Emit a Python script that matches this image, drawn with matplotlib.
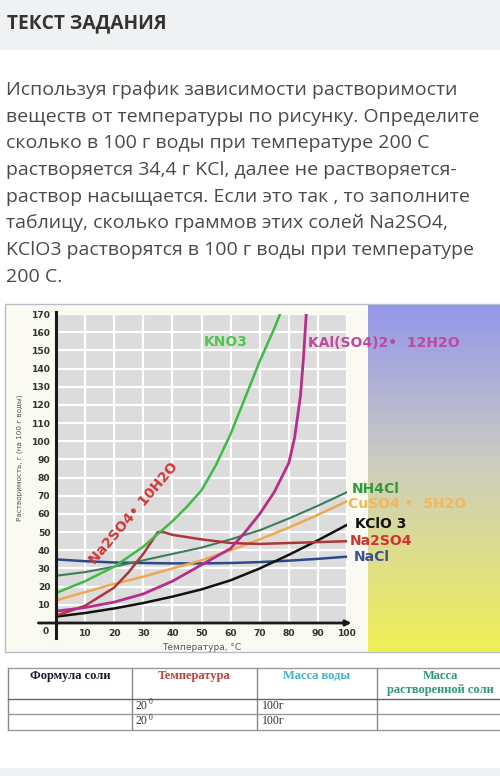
import numpy as np
import matplotlib
matplotlib.use("Agg")
import matplotlib.pyplot as plt
from matplotlib.patches import Rectangle

# --- task text ---
header = "ТЕКСТ ЗАДАНИЯ"
task_lines = [
    "Используя график зависимости растворимости",
    "веществ от температуры по рисунку. Определите",
    "сколько в 100 г воды при температуре 200 С",
    "растворяется 34,4 г KCl, далее не растворяется-",
    "раствор насыщается. Если это так , то заполните",
    "таблицу, сколько граммов этих солей Na2SO4,",
    "KClO3 растворятся в 100 г воды при температуре",
    "200 С.",
]

# --- solubility curves, g per 100 g water ---
t_std = [0, 10, 20, 30, 40, 50, 60, 70, 80, 90, 100]

kno3_t = [0, 10, 20, 30, 40, 45, 50, 55, 60, 65, 70, 75, 77]
kno3_s = [16.5, 23, 31, 42, 56, 64, 73, 87, 104, 124, 144, 162, 170]

kal_t = [0, 10, 20, 30, 40, 50, 60, 65, 70, 75, 80, 82, 84, 85, 86]
kal_s = [6.5, 8.5, 11.5, 16, 23, 32, 41, 50, 60, 72, 88, 102, 125, 145, 170]

nh4cl_s = [26, 28, 31, 34.5, 38, 41.5, 46, 51, 57.5, 64.5, 72]
cuso4_s = [12.5, 17, 21.5, 25.5, 30, 34.5, 40, 46, 52.5, 59.5, 67]
kclo3_s = [3.5, 5.5, 8, 11, 14.5, 18.5, 23.5, 30, 37.5, 45.5, 54]
nacl_s = [35, 34, 33.3, 33, 32.8, 32.8, 33, 33.5, 34.3, 35.3, 36.5]

na2so4_t = [0, 10, 20, 25, 30, 35, 37, 40, 50, 60, 70, 80, 90, 100]
na2so4_s = [4, 9.5, 19.5, 28, 38, 50, 50, 48.5, 46, 44, 43.5, 44, 44.5, 45]

x_ticks = list(range(0, 101, 10))
y_ticks = list(range(0, 171, 10))

# --- table ---
table_head = ["Формула соли", "Температура", "Масса воды", "Масса\nрастворенной соли"]
table_temp = ["20", "20"]
table_water = ["100г", "100г"]

W, H = 500, 776
fig = plt.figure(figsize=(W / 100, H / 100), dpi=100)


def px(x, y):
    # pixel position -> figure fraction
    return x / W, 1 - y / H


# background axes in pixel coordinates
bg = fig.add_axes([0, 0, 1, 1])
bg.set_xlim(0, W)
bg.set_ylim(H, 0)
bg.axis("off")

bg.add_patch(Rectangle((0, 0), W, 50, color="#eff1f2", lw=0))
bg.text(7, 23, header, fontsize=13.8, fontweight="bold", family="Open Sans",
        color="#333333", va="center")
for i, line in enumerate(task_lines):
    bg.text(6, 90 + i * 26.67, line, fontsize=14, family="Open Sans",
            color="#4a4a4a", va="center")

# chart backdrop
bg.add_patch(Rectangle((5, 304), 495, 348, facecolor="#fafaf2",
                       edgecolor="#b8bcc4", lw=1))
grad = np.linspace(0, 1, 200)[:, None]
top = np.array([0.58, 0.59, 0.92])
mid = np.array([0.80, 0.80, 0.76])
bot = np.array([0.94, 0.94, 0.33])
rgb = np.where(grad[..., None] < 0.45,
               top + (mid - top) * (grad[..., None] / 0.45),
               mid + (bot - mid) * ((grad[..., None] - 0.45) / 0.55))
bg.imshow(rgb, extent=(368, 500, 652, 305), aspect="auto", zorder=1)

# chart axes
ax = fig.add_axes([56 / W, (H - 623) / H, 291 / W, 309 / H])
ax.set_facecolor("#dcdcdc")
ax.set_xlim(0, 100)
ax.set_ylim(0, 170)
ax.set_xticks(x_ticks)
ax.set_yticks(y_ticks)
ax.set_xticklabels([""] + [str(v) for v in x_ticks[1:]])
ax.set_yticklabels([""] + [str(v) for v in y_ticks[1:]])
ax.tick_params(length=0, labelsize=6.6, labelcolor="#333333", pad=4)
for lbl in ax.get_xticklabels() + ax.get_yticklabels():
    lbl.set_fontweight("bold")
ax.grid(color="white", lw=1.6)
ax.set_axisbelow(True)
for sp in ax.spines.values():
    sp.set_visible(False)

# axis lines
ax.plot([0, 0], [-8, 171], color="#1a1a1a", lw=2.2, clip_on=False, zorder=5)
ax.annotate("", xy=(102.5, 0), xytext=(-7, 0),
            arrowprops=dict(arrowstyle="-|>", color="#1a1a1a", lw=2.0,
                            mutation_scale=8), annotation_clip=False, zorder=5)
ax.text(-3.5, -4.8, "0", fontsize=6.6, fontweight="bold", color="#333333",
        ha="center", va="center")

ax.plot(t_std, nacl_s, color="#2c4a8a", lw=1.8)
ax.plot(t_std, nh4cl_s, color="#3d7d5a", lw=1.5)
ax.plot(t_std, cuso4_s, color="#eea850", lw=1.8)
ax.plot(t_std, kclo3_s, color="#111111", lw=1.8)
ax.plot(na2so4_t, na2so4_s, color="#b0343a", lw=1.8)
ax.plot(kal_t, kal_s, color="#b82c8c", lw=2.0)
ax.plot(kno3_t, kno3_s, color="#3dbb45", lw=1.8)

ax.set_xlabel("Температура, °С", fontsize=6.5, color="#555555", labelpad=4)

# labels drawn on top of everything
fig.text(*px(20, 458), "Растворимость, г (на 100 г воды)", fontsize=5.2,
         color="#555555", rotation=90, ha="center", va="center")
lab = dict(fontsize=10, fontweight="bold", va="center")
fig.text(*px(204, 342), "KNO3", color="#4cc94c", **lab)
fig.text(*px(308, 343), "KAl(SO4)2•  12H2O", color="#c048a0", **lab)
fig.text(*px(352, 489), "NH4Cl", color="#2e9a3a", **lab)
fig.text(*px(348, 504), "CuSO4 •  5H2O", color="#f2b75a", **lab)
fig.text(*px(355, 524), "KClO 3", color="#111111", **lab)
fig.text(*px(350, 541), "Na2SO4", color="#d0342c", **lab)
fig.text(*px(354, 557), "NaCl", color="#3e4f8e", **lab)
fig.text(*px(134, 513), "Na2SO4• 10H2O", color="#d03838", fontsize=10,
         fontweight="bold", rotation=49.6, ha="center", va="center",
         rotation_mode="anchor")

# table
col_x = [8, 132, 257, 377, 505]
row_y = [668, 699, 714, 730]
for x in col_x[:-1]:
    bg.plot([x, x], [row_y[0], row_y[-1]], color="#888888", lw=1)
for y in row_y:
    bg.plot([col_x[0], W], [y, y], color="#666666" if y == 699 else "#999999", lw=1)
head_colors = ["#1a1a2a", "#c0403a", "#3fb5c5", "#2e9a70"]
head_x = [70, 194, 317, 440]
for txt, c, x in zip(table_head, head_colors, head_x):
    bg.text(x, 670, txt, family="Liberation Serif", fontweight="bold", fontsize=9,
            color=c, ha="center", va="top", linespacing=1.25)
for i, (tt, ww) in enumerate(zip(table_temp, table_water)):
    y = 706 + i * 15.5
    bg.text(136, y, tt, family="Liberation Serif", fontsize=8.5, color="#333333", va="center")
    bg.text(149, y - 4, "0", family="Liberation Serif", fontsize=5.5, color="#333333", va="center")
    bg.text(262, y, ww, family="Liberation Serif", fontsize=8.5, color="#333333", va="center")

bg.add_patch(Rectangle((0, 768), W, 8, color="#f0f1f2", lw=0))

fig.savefig("out.png", dpi=100)
